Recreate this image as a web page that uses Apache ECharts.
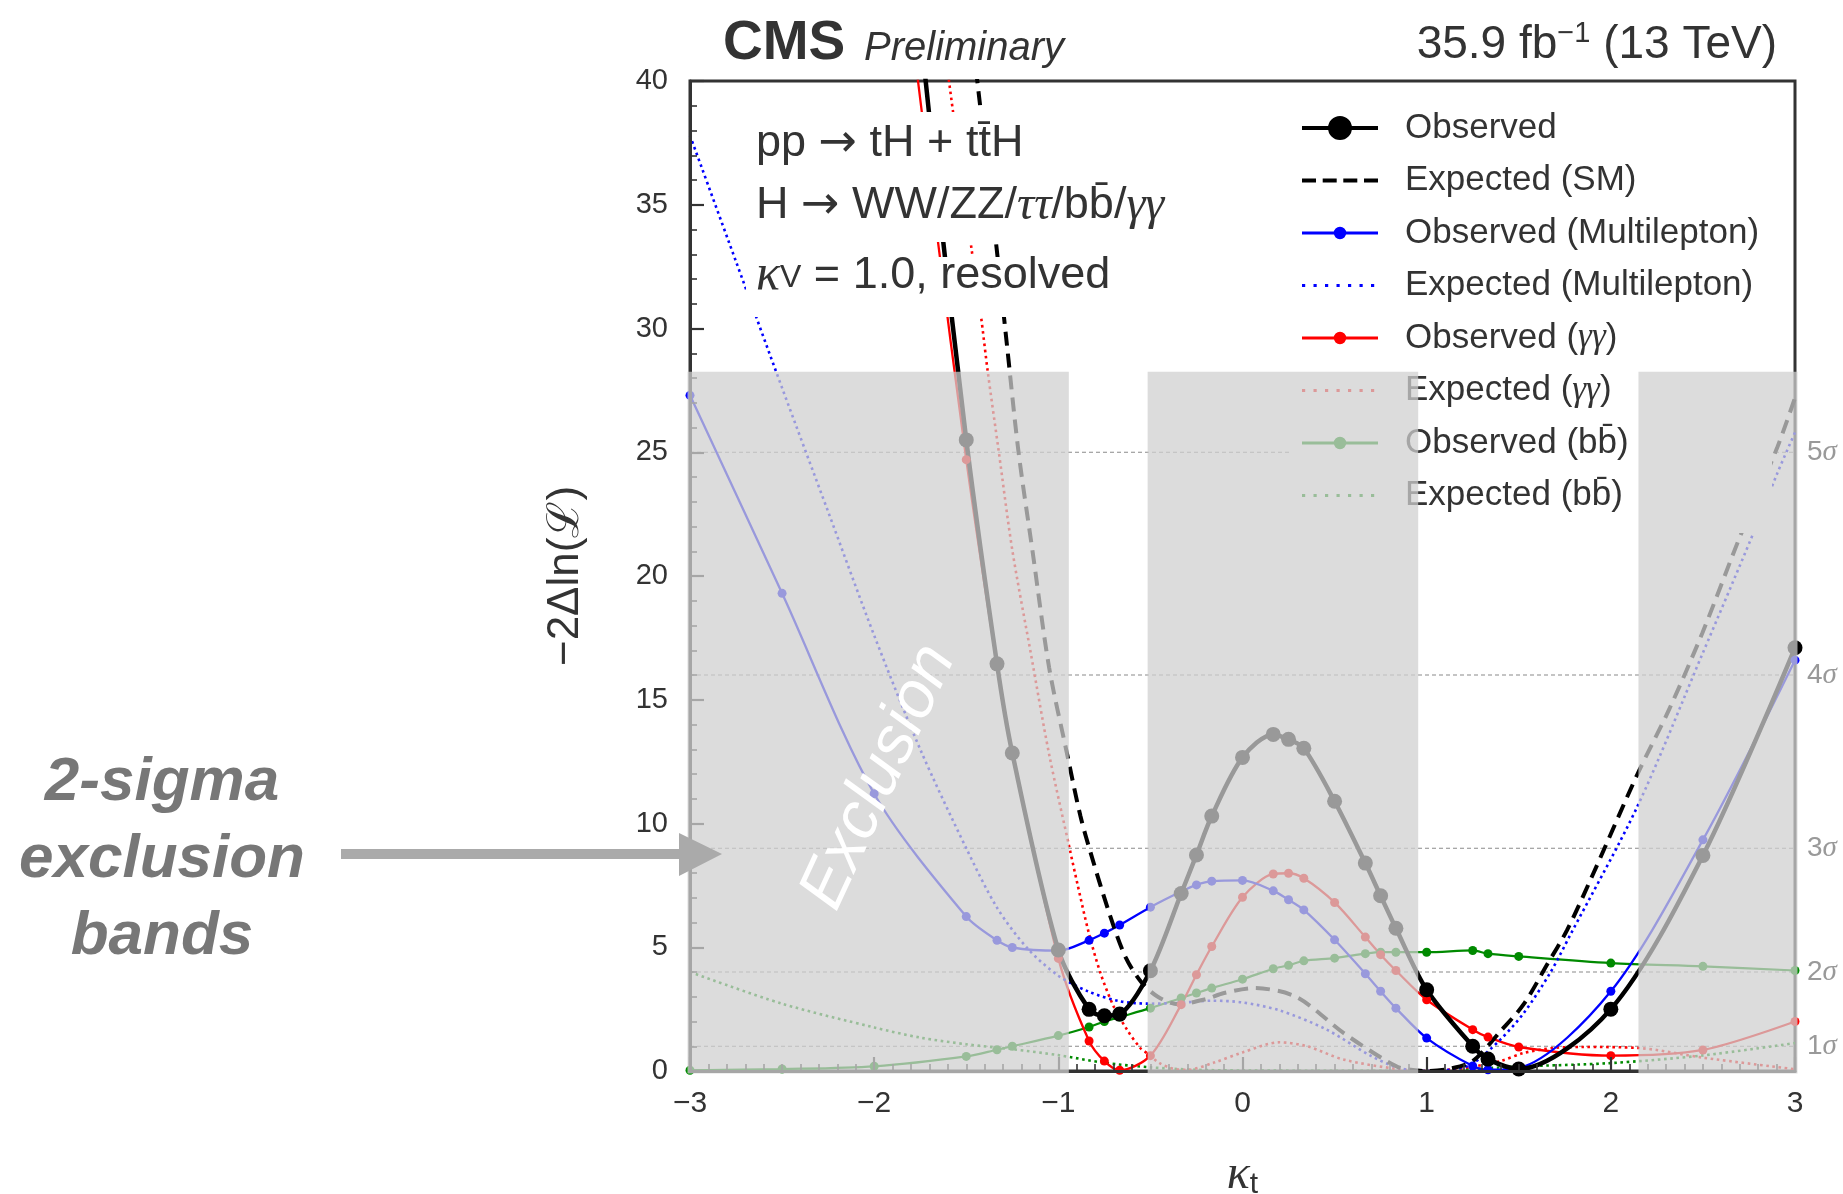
<!DOCTYPE html>
<html><head><meta charset="utf-8">
<script src="https://cdn.jsdelivr.net/npm/echarts@6/dist/echarts.min.js"></script>
<style>html,body{margin:0;padding:0;background:#fff}#c{width:1843px;height:1194px}</style>
</head><body><div id="c"></div>
<script>
// ---------------- data ----------------
const xMin = -3, xMax = 3, yMin = 0, yMax = 40;
const sigmaLevels = [1, 4, 9, 16, 25];
const sigmaNames = ['1', '2', '3', '4', '5'];
const bandRanges = [[-3, -0.943], [-0.515, 0.954], [2.15, 3]];
const bandTop = 28.25;

const obsCombined = [[-1.75,42.1],[-1.667,36.3],[-1.5,25.5],[-1.333,16.45],[-1.25,12.85],[-1.0,4.89],[-0.833,2.49],[-0.75,2.23],[-0.667,2.30],[-0.5,4.05],[-0.333,7.17],[-0.25,8.73],[-0.167,10.3],[0,12.67],[0.167,13.6],[0.25,13.4],[0.333,13.04],[0.5,10.9],[0.667,8.4],[0.75,7.08],[0.833,5.77],[1.0,3.28],[1.25,1.0],[1.333,0.48],[1.5,0.08],[2.0,2.5],[2.5,8.71],[3.0,17.1]];
const expSM = [[-1.5,44.0],[-1.44,40],[-1.336,33.3],[-1.28,29.4],[-1.216,25],[-1.14,21],[-1.05,16.3],[-0.955,12.9],[-0.88,10.3],[-0.82,8.7],[-0.72,6.3],[-0.635,4.6],[-0.55,3.6],[-0.46,3.0],[-0.35,2.7],[-0.2,2.9],[-0.1,3.15],[0.06,3.35],[0.29,3.0],[0.55,1.53],[0.77,0.46],[0.86,0.12],[1.0,0.0],[1.13,0.1],[1.25,0.4],[1.4,1.6],[1.527,2.7],[1.654,4.3],[1.763,5.7],[1.9,7.9],[2.145,12.0],[2.316,14.6],[2.497,17.7],[2.705,21.66],[2.904,25.2],[3.0,27.2]];
const obsML = [[-3,27.3],[-2.5,19.3],[-2,11.2],[-1.5,6.24],[-1.333,5.28],[-1.25,4.99],[-1.0,4.86],[-0.833,5.28],[-0.75,5.57],[-0.667,5.9],[-0.5,6.62],[-0.333,7.25],[-0.25,7.52],[-0.167,7.67],[0,7.7],[0.167,7.28],[0.25,6.92],[0.333,6.51],[0.5,5.3],[0.667,3.93],[0.75,3.22],[0.833,2.54],[1.0,1.33],[1.25,0.2],[1.333,0.05],[1.5,0.12],[2.0,3.22],[2.5,9.34],[3.0,16.6]];
const expML = [[-3,37.8],[-2.75,32.7],[-2.5,27.6],[-2.25,22.6],[-2,17.6],[-1.75,13.0],[-1.5,9.0],[-1.333,6.6],[-1.167,4.95],[-1.0,3.85],[-0.833,3.2],[-0.667,2.82],[-0.5,2.72],[-0.333,2.76],[-0.167,2.84],[0,2.77],[0.2,2.45],[0.45,1.7],[0.7,0.6],[0.85,0.12],[1.0,0.0],[1.15,0.08],[1.25,0.3],[1.4,1.27],[1.527,2.34],[1.67,3.96],[1.78,5.5],[2.145,10.7],[2.5,16.9],[2.77,21.66],[2.904,24.15],[3.0,25.8]];
const obsGG = [[-1.8,42.3],[-1.667,34.3],[-1.5,24.7],[-1.333,16.4],[-1.25,12.94],[-1.0,4.55],[-0.833,1.21],[-0.75,0.40],[-0.667,0.03],[-0.5,0.62],[-0.333,2.68],[-0.25,3.89],[-0.167,5.03],[0,7.02],[0.167,7.96],[0.25,7.99],[0.333,7.79],[0.5,6.81],[0.667,5.41],[0.75,4.7],[0.833,4.06],[1.0,2.88],[1.25,1.67],[1.333,1.37],[1.5,0.97],[2.0,0.62],[2.5,0.85],[3.0,2.0]];
const expGG = [[-1.65,43.3],[-1.585,39.5],[-1.471,33.2],[-1.42,30.5],[-1.384,28.3],[-1.323,25],[-1.25,21.05],[-1.15,16.9],[-1.05,12.8],[-0.937,8.93],[-0.897,7.58],[-0.834,5.56],[-0.771,3.95],[-0.699,2.6],[-0.626,1.66],[-0.554,0.92],[-0.518,0.72],[-0.45,0.32],[-0.38,0.1],[-0.3,0.05],[-0.15,0.35],[0,0.75],[0.2,1.16],[0.35,1.0],[0.55,0.46],[0.84,0.08],[1.0,0.0],[1.2,0.12],[1.4,0.4],[1.527,0.73],[1.69,0.93],[1.85,0.97],[2.15,0.93],[2.5,0.54],[3.0,0.07]];
const obsBB = [[-3,0.03],[-2.5,0.08],[-2,0.19],[-1.5,0.59],[-1.333,0.86],[-1.25,1.0],[-1.0,1.43],[-0.833,1.78],[-0.75,2.0],[-0.667,2.18],[-0.5,2.54],[-0.333,2.95],[-0.25,3.15],[-0.167,3.35],[0,3.71],[0.167,4.13],[0.25,4.27],[0.333,4.45],[0.5,4.56],[0.667,4.74],[0.75,4.8],[0.833,4.8],[1.0,4.8],[1.25,4.87],[1.333,4.74],[1.5,4.63],[2.0,4.36],[2.5,4.23],[3.0,4.06]];
const expBB = [[-3,4.0],[-2.5,2.72],[-2,1.76],[-1.75,1.35],[-1.5,1.08],[-1.25,0.88],[-1.0,0.64],[-0.75,0.33],[-0.5,0.15],[-0.25,0.05],[0,0.02],[0.5,0.01],[1.0,0.0],[1.25,0.08],[1.5,0.18],[2.0,0.32],[2.5,0.63],[3.0,1.13]];

const legendNames = ['Observed','Expected (SM)','Observed (Multilepton)','Expected (Multilepton)','Observed (γγ)','Expected (γγ)','Observed (bb\u0304)','Expected (bb\u0304)'];

// ---------------- styles ----------------
const FONT = '"Liberation Sans", Arial, sans-serif';
const SERIF = '"Liberation Serif", "DejaVu Serif", serif';
const ARROWFONT = '"DejaVu Sans", sans-serif';
const TXT = '#333';
const AXC = '#333';
const BLUE = '#0000ff', RED = '#ff0000', GREEN = '#008a00';
const bandFill = 'rgba(208,208,208,0.737)';

// legend icon paths (76 x 30 box)
const ANCH = 'M0 0L0.2 0L0 0.2Z M76 30L75.8 30L76 29.8Z ';
function rp(x0,y0,x1,y1){return `M${x0} ${y0}L${x1} ${y0}L${x1} ${y1}L${x0} ${y1}Z `;}
function cp(cx,cy,r){return `M${cx+r} ${cy}A${r} ${r} 0 0 1 ${cx-r} ${cy}A${r} ${r} 0 0 1 ${cx+r} ${cy}Z `;}
const iconObsBig = 'path://' + ANCH + rp(0,13,76,17) + cp(38,15,12);
const iconDash = 'path://' + ANCH + [0,20.7,41.3,62].map(x=>rp(x,13,x+14,17)).join('');
const iconObsSmall = 'path://' + ANCH + rp(0,13.6,76,16.4) + cp(38,15,6.2);
const iconDot = 'path://' + ANCH + [0,11.5,23,34.5,46,57.5,69].map(x=>rp(x,13.4,x+3.2,16.6)).join('');
const legendIcons = [iconObsBig, iconDash, iconObsSmall, iconDot, iconObsSmall, iconDot, iconObsSmall, iconDot];

function minus(v){ return v < 0 ? '\u2212' + Math.abs(v) : String(v); }

function obsLine(name, data, color, width, size){
  return {type:'line', name, data, smooth:0.3, symbol:'circle', symbolSize:size, showSymbol:true, clip:true, z:2,
    lineStyle:{color, width}, itemStyle:{color}, emphasis:{disabled:true}};
}
function expLine(name, data, color, width, dash){
  return {type:'line', name, data, smooth:0.3, symbol:'none', showSymbol:false, clip:true, z:2,
    lineStyle:{color, width, type:dash, cap:'butt'}, itemStyle:{color}, emphasis:{disabled:true}};
}

const sigmaSeries = sigmaLevels.map((lv, i) => ({
  type:'line', name:'sigma'+sigmaNames[i], data:[[xMin, lv],[xMax, lv]], z:1, silent:true,
  symbol:'none', showSymbol:false, clip:true,
  lineStyle:{color:'#8a8a8a', width:1.2, type:[4,3]},
  endLabel:{show:true, distance:12, formatter:'{n|'+sigmaNames[i]+'}{s|σ}',
    rich:{n:{fontSize:28, color:'#999', fontFamily:FONT}, s:{fontSize:29, color:'#999', fontFamily:SERIF, fontStyle:'italic'}}}
}));

const bandSeries = {
  type:'custom', name:'bands', z:10, silent:true, clip:false,
  data: bandRanges.map(b => [b[0], b[1], bandTop]),
  encode:{x:[0,1], y:2},
  renderItem(params, api){
    const x0 = api.value(0), x1 = api.value(1), t = api.value(2);
    const a = api.coord([x0, t]), b = api.coord([x1, yMin]);
    let l = a[0], r = b[0];
    if (x0 <= xMin) l -= 2.5;
    if (x1 >= xMax) r += 2.5;
    return {type:'rect', shape:{x:l, y:a[1], width:r-l, height:b[1]-a[1]+2.5}, style:{fill:bandFill}};
  }
};

const option = {
  animation:false,
  backgroundColor:'#fff',
  grid:{left:690, top:81, width:1105, height:990, show:true, borderColor:AXC, borderWidth:3, backgroundColor:'transparent', containLabel:false, outerBoundsMode:'none'},
  xAxis:{type:'value', min:xMin, max:xMax, interval:1, z:3,
    axisLine:{show:true, onZero:false, lineStyle:{color:AXC, width:3}},
    axisTick:{show:true, inside:true, length:14, lineStyle:{color:AXC, width:2.2}},
    minorTick:{show:true, splitNumber:10, length:7, lineStyle:{color:AXC, width:1.6}},
    splitLine:{show:false},
    axisLabel:{fontSize:30, color:TXT, margin:18, fontFamily:FONT, formatter:minus},
    name:'{k|κ}{t|t}', nameLocation:'middle', nameGap:79, nameMoveOverlap:false,
    nameTextStyle:{rich:{k:{fontSize:48, fontFamily:SERIF, fontStyle:'italic', color:TXT, lineHeight:50, verticalAlign:'middle'},
      t:{fontSize:30, fontFamily:FONT, color:TXT, lineHeight:22, verticalAlign:'bottom'}}}
  },
  yAxis:{type:'value', min:yMin, max:yMax, interval:5, z:3,
    axisLine:{show:true, onZero:false, lineStyle:{color:AXC, width:3}},
    axisTick:{show:true, inside:true, length:14, lineStyle:{color:AXC, width:2.2}},
    minorTick:{show:true, splitNumber:5, length:7, lineStyle:{color:AXC, width:1.6}},
    splitLine:{show:false},
    axisLabel:{fontSize:29, color:TXT, margin:22, fontFamily:FONT, formatter:minus},
    name:'\u22122\u0394ln(\u2112)', nameLocation:'middle', nameGap:102, nameRotate:90, nameMoveOverlap:false,
    nameTextStyle:{fontSize:44, fontFamily:FONT, color:TXT}
  },
  legend:{show:true, orient:'vertical', left:1302, top:108, itemWidth:76, itemHeight:30, itemGap:12.5, padding:0, z:5,
    selectedMode:false, itemStyle:{borderWidth:0},
    textStyle:{fontSize:35, fontFamily:FONT, color:TXT, lineHeight:40, padding:[0,0,0,22],
      rich:{g:{fontSize:35, fontFamily:SERIF, fontStyle:'italic', color:TXT, lineHeight:40}}},
    formatter:n => n.replace('γγ','{g|γγ}'),
    data: legendNames.map((n,i) => ({name:n, icon:legendIcons[i]}))
  },
  graphic:{elements:[
    {type:'text', x:723, y:44, z:20, style:{text:'CMS', fontSize:55, fontWeight:'bold', fontFamily:FONT, fill:TXT, align:'left', verticalAlign:'middle'}},
    {type:'text', x:864, y:49, z:20, style:{text:'Preliminary', fontSize:40, fontStyle:'italic', fontFamily:FONT, fill:TXT, align:'left', verticalAlign:'middle'}},
    {type:'text', x:1777, y:45, z:20, style:{text:'{n|35.9 fb}{s|\u22121}{n| (13 TeV)}', align:'right', verticalAlign:'middle',
      rich:{n:{fontSize:46, fontFamily:FONT, fill:TXT, lineHeight:52, verticalAlign:'middle'}, s:{fontSize:29, fontFamily:FONT, fill:TXT, lineHeight:18, verticalAlign:'top'}}}},
    {type:'rect', z:4, silent:true, shape:{x:1289, y:84, width:483, height:449}, style:{fill:'#fff'}},
    {type:'text', x:746, y:112, z:4, style:{text:'{n|pp }{a|\u2192}{n| tH + tt\u0304H}', align:'left', verticalAlign:'top', backgroundColor:'#fff', padding:[0,10,2,10],
      rich:{n:{fontSize:45, fontFamily:FONT, fill:TXT, lineHeight:64}, a:{fontSize:46, fontFamily:ARROWFONT, fill:TXT, lineHeight:64}}}},
    {type:'text', x:746, y:176, z:4, style:{text:'{n|H }{a|\u2192}{n| WW/ZZ/}{g|ττ}{n|/bb\u0304/}{g|γγ}', align:'left', verticalAlign:'top', backgroundColor:'#fff', padding:[0,10,6,10],
      rich:{n:{fontSize:45, fontFamily:FONT, fill:TXT, lineHeight:60}, a:{fontSize:46, fontFamily:ARROWFONT, fill:TXT, lineHeight:60}, g:{fontSize:48, fontFamily:SERIF, fontStyle:'italic', fill:TXT, lineHeight:60}}}},
    {type:'text', x:746, y:257, z:4, style:{text:'{g|κ}{sub|V}{n| = 1.0, resolved}', align:'left', verticalAlign:'top', backgroundColor:'#fff', padding:[1,10,23,10],
      rich:{n:{fontSize:45, fontFamily:FONT, fill:TXT, lineHeight:36, verticalAlign:'middle'}, g:{fontSize:50, fontFamily:SERIF, fontStyle:'italic', fill:TXT, lineHeight:36, verticalAlign:'middle'},
        sub:{fontSize:32, fontFamily:FONT, fill:TXT, lineHeight:6, verticalAlign:'bottom'}}}},
    {type:'text', x:879, y:777, z:12, rotation:65*Math.PI/180, silent:true, style:{text:'Exclusion', fontSize:66, fontStyle:'italic', fontFamily:FONT, fill:'#fff', align:'center', verticalAlign:'middle'}},
    {type:'text', x:162, y:860, z:15, style:{text:'2-sigma\nexclusion\nbands', fontSize:62, fontWeight:'bold', fontStyle:'italic', fontFamily:FONT, fill:'#777', align:'center', verticalAlign:'middle', lineHeight:77}},
    {type:'polygon', z:15, shape:{points:[[341,849],[679,849],[679,833],[722,854],[679,876],[679,859],[341,859]]}, style:{fill:'#aaa'}}
  ]},
  series:[
    ...sigmaSeries,
    expLine('Expected (bb\u0304)', expBB, GREEN, 2.6, [2.6,3.6]),
    obsLine('Observed (bb\u0304)', obsBB, GREEN, 2.2, 9),
    expLine('Expected (γγ)', expGG, RED, 2.6, [2.6,3.6]),
    obsLine('Observed (γγ)', obsGG, RED, 2.3, 9),
    expLine('Expected (Multilepton)', expML, BLUE, 2.6, [2.6,3.6]),
    obsLine('Observed (Multilepton)', obsML, BLUE, 2.3, 9),
    expLine('Expected (SM)', expSM, '#000', 4, [14,8]),
    obsLine('Observed', obsCombined, '#000', 4.5, 15),
    bandSeries
  ]
};

const chart = echarts.init(document.getElementById('c'), null, {renderer:'canvas'});
chart.setOption(option);
</script>
</body></html>
